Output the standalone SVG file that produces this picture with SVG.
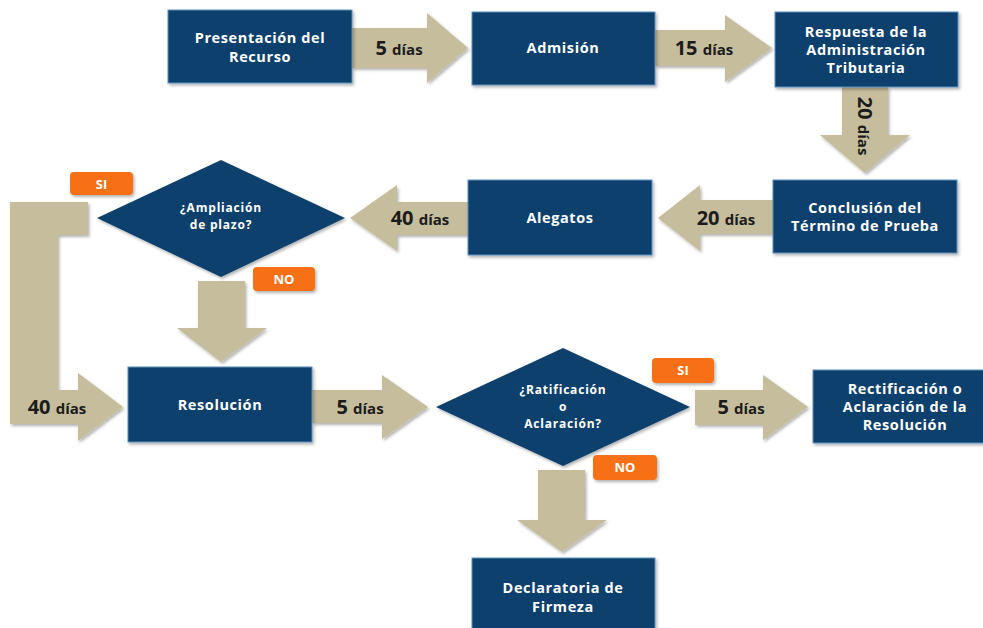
<svg xmlns="http://www.w3.org/2000/svg" width="983" height="628" viewBox="0 0 983 628">
<defs>
<filter id="sh" x="-10%" y="-10%" width="130%" height="130%">
<feDropShadow dx="1.5" dy="2" stdDeviation="1.5" flood-color="#000" flood-opacity="0.3"/>
</filter>
<style>
.box{fill:#0e416d;stroke:#5d8fbf;stroke-width:1;filter:url(#sh)}
.dia{fill:#0e416d;filter:url(#sh)}
.arr{fill:#c6bd9c;filter:url(#sh)}
.badge{fill:#f86f15;filter:url(#sh)}
.t{font-family:"Open Sans",Lato,"Liberation Sans",sans-serif;font-weight:bold;font-size:14.5px;letter-spacing:0.6px;fill:#ffffff;text-anchor:middle}
.td{font-family:"Open Sans",Lato,"Liberation Sans",sans-serif;font-weight:bold;font-size:12px;letter-spacing:0.8px;fill:#ffffff;text-anchor:middle}
.tb{font-family:"Open Sans",Lato,"Liberation Sans",sans-serif;font-weight:bold;font-size:13px;fill:#ffffff;text-anchor:middle}
.n{font-family:"Open Sans",Lato,"Liberation Sans",sans-serif;font-weight:bold;font-size:20px;fill:#1b1b1b;text-anchor:middle}
.d{font-size:15px;font-weight:bold}
</style>
</defs>
<rect width="983" height="628" fill="#ffffff"/>

<g id="connectors">
<g id="a1">
<polygon class="arr" points="352,28 427,28 427,13 468,48 427,83 427,68 352,68"/>
<text class="n" x="399" y="55">5 <tspan class="d">días</tspan></text>
</g>
<g id="a2">
<polygon class="arr" points="655,30 725,30 725,15 772,48 725,82 725,66 655,66"/>
<text class="n" x="704" y="55">15 <tspan class="d">días</tspan></text>
</g>
<g id="a3">
<polygon class="arr" points="842,87 888,87 888,135 910,135 865,173 820,135 842,135"/>
<text class="n" transform="translate(858,126) rotate(90)" x="0" y="0">20 <tspan class="d">días</tspan></text>
</g>
<g id="a4">
<polygon class="arr" points="773,200 700,200 700,185 658,218 700,251 700,234 773,234"/>
<text class="n" x="726" y="225">20 <tspan class="d">días</tspan></text>
</g>
<g id="a5">
<polygon class="arr" points="468,202 397,202 397,185 350,218 397,251 397,235 468,235"/>
<text class="n" x="420" y="225">40 <tspan class="d">días</tspan></text>
</g>
<g id="a6">
<polygon class="arr" points="198,281 245,281 245,328 267,328 221,362 177,328 198,328"/>
</g>
<g id="a7">
<polygon class="arr" points="10,202 88,202 88,235 58,235 58,390 78,390 78,373 123,407 78,441 78,424 10,424"/>
<text class="n" x="57" y="414">40 <tspan class="d">días</tspan></text>
</g>
<g id="a8">
<polygon class="arr" points="312,390 382,390 382,375 428,407 382,439 382,423 312,423"/>
<text class="n" x="360" y="414">5 <tspan class="d">días</tspan></text>
</g>
<g id="a9">
<polygon class="arr" points="695,390 763,390 763,375 808,407 763,440 763,425 695,425"/>
<text class="n" x="741" y="414">5 <tspan class="d">días</tspan></text>
</g>
<g id="a10">
<polygon class="arr" points="538,470 585,470 585,520 607,520 562,552 517,520 538,520"/>
</g>
</g>

<g id="n1">
<rect class="box" x="168" y="10" width="184" height="73"/>
<text class="t" x="260" y="43">Presentación del</text>
<text class="t" x="260" y="62">Recurso</text>
</g>
<g id="n2">
<rect class="box" x="472" y="12" width="183" height="73"/>
<text class="t" x="563" y="53">Admisión</text>
</g>
<g id="n3">
<rect class="box" x="775" y="12" width="183" height="75"/>
<text class="t" x="866" y="37">Respuesta de la</text>
<text class="t" x="866" y="55">Administración</text>
<text class="t" x="866" y="73">Tributaria</text>
</g>
<g id="n4">
<rect class="box" x="773" y="180" width="184" height="73"/>
<text class="t" x="865" y="213">Conclusión del</text>
<text class="t" x="865" y="231">Término de Prueba</text>
</g>
<g id="n5">
<rect class="box" x="468" y="180" width="184" height="75"/>
<text class="t" x="560" y="223">Alegatos</text>
</g>
<g id="d1">
<polygon class="dia" points="97,218 221,160 345,218 221,277"/>
<text class="td" x="221" y="212">¿Ampliación</text>
<text class="td" x="221" y="229">de plazo?</text>
</g>
<g id="si1">
<rect class="badge" x="70" y="172" width="63" height="23" rx="4"/>
<text class="tb" x="101.5" y="188.5">SI</text>
</g>
<g id="no1">
<rect class="badge" x="253" y="267" width="62" height="24" rx="4"/>
<text class="tb" x="284" y="284">NO</text>
</g>
<g id="n6">
<rect class="box" x="128" y="367" width="184" height="75"/>
<text class="t" x="220" y="410">Resolución</text>
</g>
<g id="d2">
<polygon class="dia" points="436,407 563,348 690,407 563,466"/>
<text class="td" x="563" y="394">¿Ratificación</text>
<text class="td" x="563" y="411">o</text>
<text class="td" x="563" y="428">Aclaración?</text>
</g>
<g id="si2">
<rect class="badge" x="652" y="358" width="62" height="25" rx="4"/>
<text class="tb" x="683" y="375">SI</text>
</g>
<g id="no2">
<rect class="badge" x="593" y="455" width="64" height="25" rx="4"/>
<text class="tb" x="625" y="472">NO</text>
</g>
<g id="n7">
<rect class="box" x="813" y="370" width="184" height="73"/>
<text class="t" x="905" y="394">Rectificación o</text>
<text class="t" x="905" y="412">Aclaración de la</text>
<text class="t" x="905" y="430">Resolución</text>
</g>
<g id="n8">
<rect class="box" x="472" y="558" width="183" height="80"/>
<text class="t" x="563" y="593">Declaratoria de</text>
<text class="t" x="563" y="612">Firmeza</text>
</g>
</svg>
